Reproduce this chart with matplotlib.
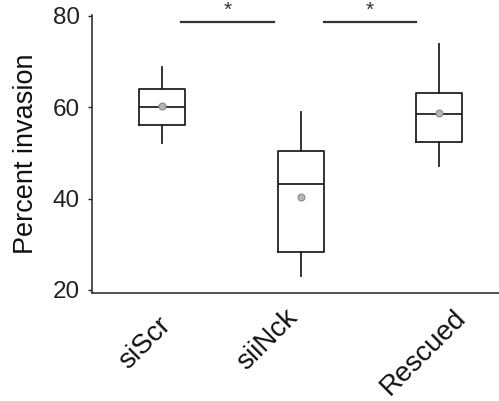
import matplotlib.pyplot as plt
import matplotlib.transforms as mtransforms

plt.rcParams['font.family'] = ['Liberation Sans', 'DejaVu Sans']

groups = ['siScr', 'siiNck', 'Rescued']
whislo = [52.2, 23.1, 47.2]
q1 = [56.1, 28.3, 52.3]
med = [60.1, 43.1, 58.5]
q3 = [64.0, 50.5, 63.2]
whishi = [68.8, 58.9, 73.9]
means = [60.3, 40.4, 58.7]

# significance comparisons: (x start, x end, bar height, label)
sig_x0 = [1.135, 2.165]
sig_x1 = [1.805, 2.83]
sig_y = [78.6, 78.6]
sig_lab = ['*', '*']

stats = []
for i in range(len(groups)):
    stats.append(dict(label=groups[i], whislo=whislo[i], q1=q1[i], med=med[i],
                      q3=q3[i], whishi=whishi[i], mean=means[i], fliers=[]))

fig = plt.figure(figsize=(4.99, 4.01), dpi=100)
ax = fig.add_axes([0.1844, 0.2693, 0.8156, 0.6933])

line = dict(color='#222222', linewidth=1.3)
ax.bxp(stats, positions=[1, 2, 3], widths=0.33, showmeans=True, showcaps=False,
       boxprops=line, whiskerprops=line, medianprops=line,
       meanprops=dict(marker='o', markerfacecolor='#b5b5b5', markeredgecolor='#8c8c8c',
                      markersize=5, markeredgewidth=0.8))

for x0, x1, y, lab in zip(sig_x0, sig_x1, sig_y, sig_lab):
    ax.plot([x0, x1], [y, y], color='#333333', lw=1.6, clip_on=False)
    ax.text((x0 + x1) / 2, y + 2.6, lab, ha='center', va='center', fontsize=15,
            color='#333333', clip_on=False)

ax.set_xlim(0.495, 3.43)
ax.set_ylim(19.34, 80.2)
ax.set_yticks([20, 40, 60, 80])
ax.tick_params(axis='y', labelsize=17.5, length=3, width=1, pad=6, colors='#222222')
ax.tick_params(axis='x', length=0, pad=8)
ax.set_xticks([1, 2, 3])
ax.set_xticklabels(groups, rotation=45, ha='right', va='top', rotation_mode='anchor',
                   fontsize=20, color='#111111')
label_dx = [-4, -16, 13]
label_dy = [-8, 0, 0]
for t, dx, dy in zip(ax.get_xticklabels(), label_dx, label_dy):
    t.set_transform(t.get_transform() + mtransforms.ScaledTranslation(dx / 100, dy / 100, fig.dpi_scale_trans))

ax.set_ylabel('Percent invasion', fontsize=19.5, color='#111111', labelpad=10)
for s in ['top', 'right']:
    ax.spines[s].set_visible(False)
for s in ['left', 'bottom']:
    ax.spines[s].set_color('#333333')
    ax.spines[s].set_linewidth(1.2)

fig.savefig('out.png', dpi=100)
